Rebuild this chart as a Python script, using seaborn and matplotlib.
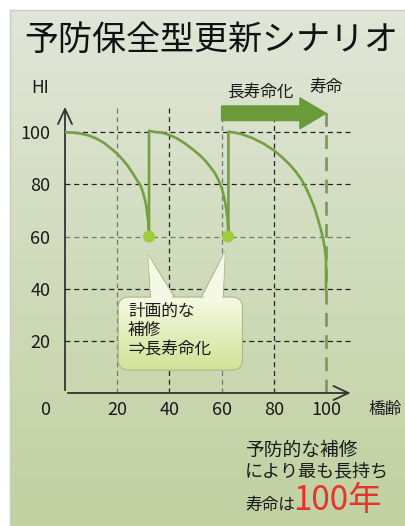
import numpy as np
import pandas as pd
import matplotlib
matplotlib.use("Agg")
import matplotlib.pyplot as plt
import matplotlib.patches as mpatches
import seaborn as sns

#aesthetic setting
sns.set_theme(style="white")
plt.rcParams['font.family'] = ['Noto Sans CJK JP', 'DejaVu Sans']

#1. data
# HI curve: decay -> repair -> decay -> repair -> decay
age = [0, 3, 6, 9, 12, 15, 18, 20, 22, 24, 26, 27.5, 29, 30, 31, 31.6, 31.9, 32.1, 32.2,
       32.2, 34, 37, 40, 43, 46, 49, 52, 54, 56, 57.5, 59, 60, 61, 61.8, 62.3, 62.6,
       62.6, 65, 68, 72, 76, 80, 83, 86, 88.5, 90.7, 92.5, 94, 95.5, 97, 98, 99, 99.6, 100, 100]
hi = [100, 99.9, 99.5, 98.8, 97.6, 95.9, 93.5, 91.8, 89.6, 87.2, 84.2, 81.8, 79.5, 76.5, 72.5, 68.0, 65.5, 62.5, 60,
      100.6, 100.2, 99.9, 99.0, 97.6, 95.7, 93.4, 90.9, 88.8, 86.3, 84.2, 81.3, 78.8, 75.0, 70.5, 66.3, 60,
      100.2, 99.9, 99.2, 97.7, 95.7, 93.1, 90.6, 87.7, 84.8, 81.7, 78.3, 75.0, 71.3, 66.4, 62.8, 58.7, 55.0, 51.0, 39.0]
repair_age = [32.2, 62.5]
repair_hi = [60, 60]
life_end = 100
x_ticks = [20, 40, 60, 80, 100]
y_ticks = [20, 40, 60, 80, 100]
x_grid = [20, 40, 60, 80]

curve = pd.DataFrame({'age': age, 'HI': hi})
repairs = pd.DataFrame({'age': repair_age, 'HI': repair_hi})

#2. figure + slide background
W, H = 406, 526
fig = plt.figure(figsize=(W / 100, H / 100), dpi=100)
fig.patch.set_facecolor('white')

ax_bg = fig.add_axes([0, 0, 1, 1], zorder=-1)
top = np.array([224, 230, 216]) / 255
bot = np.array([193, 209, 160]) / 255
t = np.linspace(0, 1, 256)[:, None]
grad = (top[None, :] * (1 - t) + bot[None, :] * t)[:, None, :]
ax_bg.imshow(grad, extent=(10, W, H, 10), aspect='auto')
ax_bg.add_patch(mpatches.Rectangle((10, 10), W, H, fill=False, ec='#c8ccc0', lw=1))
ax_bg.set_xlim(0, W)
ax_bg.set_ylim(H, 0)
ax_bg.axis('off')

#3. main chart axes (origin at px 65,393 ; 2.61 px per unit)
ax = fig.add_axes([65 / W, (H - 393) / H, 110.7 * 2.61 / W, 110.5 * 2.607 / H])
ax.patch.set_alpha(0)
ax.set_xlim(0, 110.7)
ax.set_ylim(0, 110.5)
for s in ax.spines.values():
    s.set_visible(False)

# dashed grid
for yv in y_ticks:
    ax.axhline(yv, color='#777777' if yv == 60 else '#222222', ls=(0, (4, 3)), lw=0.9, zorder=1)
for xv in x_grid:
    ax.axvline(xv, color='#777777' if xv in (20, 60) else '#222222', ls=(0, (4, 3)), lw=0.9, zorder=1)
ax.axvline(life_end, color='#7d9c55', ls=(0, (5, 3)), lw=2.0, zorder=1)

# axis arrows
arrow_kw = dict(arrowstyle='->,head_length=0.9,head_width=0.42', color='#333333', lw=1.3)
ax.annotate('', xy=(0, 110.8), xytext=(0, 0), arrowprops=arrow_kw, annotation_clip=False)
ax.annotate('', xy=(110.5, 0), xytext=(0, 0), arrowprops=arrow_kw, annotation_clip=False)

ax.set_xticks(x_ticks)
ax.set_yticks(y_ticks)
ax.tick_params(axis='both', length=0, labelsize=13, colors='#1a1a1a')
ax.tick_params(axis='x', pad=5.5)
ax.tick_params(axis='y', pad=10.5)
ax.text(-7.7, -6.5, '0', ha='center', va='center', fontsize=13, color='#1a1a1a')
ax.text(-9.6, 117, 'HI', ha='center', va='center', fontsize=12.5, color='#1a1a1a')
ax.text(122.6, -6.5, '橋齢', ha='center', va='center', fontsize=12, color='#1a1a1a')

# HI curve + repair points
sns.lineplot(data=curve, x='age', y='HI', sort=False, estimator=None,
             color='#74a043', lw=1.9, ax=ax, zorder=3)
sns.scatterplot(data=repairs, x='age', y='HI', color='#9dcc3c', s=75,
                edgecolor='none', ax=ax, zorder=4)
ax.set_xlabel('')
ax.set_ylabel('')

# big "長寿命化" arrow
big = mpatches.FancyArrow(60, 107.3, 40, 0, width=5.6, head_width=11.8, head_length=10,
                          length_includes_head=True, color='#6b9a3a', clip_on=False, zorder=3)
ax.add_patch(big)
ax.text(62.0, 115.6, '長寿命化', ha='left', va='center', fontsize=12, color='#1a1a1a')
ax.text(99.8, 117.2, '寿命', ha='center', va='center', fontsize=12, color='#1a1a1a')

#4. speech bubble
ptr_l = [(31.9, 53.0), (32.8, 36.0), (42.5, 36.0)]
ptr_r = [(61.3, 54.2), (51.8, 36.0), (60.6, 36.0)]
for pts in (ptr_l, ptr_r):
    ax.add_patch(mpatches.Polygon(pts, closed=True, fc='#f6f9ea', ec='#a9b98a', lw=0.8, zorder=5))

bubble = mpatches.FancyBboxPatch((21.8, 10.2), 44.8, 25.2,
                                 boxstyle='round,pad=1.4,rounding_size=4',
                                 fc='none', ec='#a9b98a', lw=0.8, zorder=6)
ax.add_patch(bubble)
bfill = np.linspace(0, 1, 128)[:, None]
btop = np.array([246, 249, 228]) / 255
bbot = np.array([210, 226, 150]) / 255
bgrad = (btop[None, :] * (1 - bfill) + bbot[None, :] * bfill)[:, None, :]
im = ax.imshow(bgrad, extent=(20, 68.5, 8.6, 37.2), origin='upper', aspect='auto', zorder=5.5)
im.set_clip_path(bubble)
# hide bubble border where the pointers join
for pts in (ptr_l, ptr_r):
    p = [pts[0], (pts[1][0] + 0.35, pts[1][1] - 1.2), (pts[2][0] - 0.35, pts[2][1] - 1.2)]
    ax.add_patch(mpatches.Polygon(p, closed=True, fc='#f4f8e4', ec='none', zorder=6.5))
ax.set_xlim(0, 110.7)
ax.set_ylim(0, 110.5)

ax.text(24.1, 31.2, '計画的な', ha='left', va='center', fontsize=12, color='#1a1a1a', zorder=7)
ax.text(24.1, 24.1, '補修', ha='left', va='center', fontsize=12, color='#1a1a1a', zorder=7)
ax.text(24.1, 16.9, '⇒長寿命化', ha='left', va='center', fontsize=12, color='#1a1a1a', zorder=7)

#5. title and conclusion text
fig.text(211 / W, 1 - 40 / H, '予防保全型更新シナリオ', ha='center', va='center',
         fontsize=24.5, color='#111111')
ax.text(69, -21.9, '予防的な補修', ha='left', va='center', fontsize=13.5, color='#1a1a1a')
ax.text(69, -30.0, 'により最も長持ち', ha='left', va='center', fontsize=13, color='#1a1a1a')
ax.text(69, -45.0, '寿命は', ha='left', va='baseline', fontsize=12, color='#1a1a1a')
ax.text(87.3, -45.0, '100年', ha='left', va='baseline', fontsize=24, color='#e8322a')

plt.savefig('out.png', dpi=100)
